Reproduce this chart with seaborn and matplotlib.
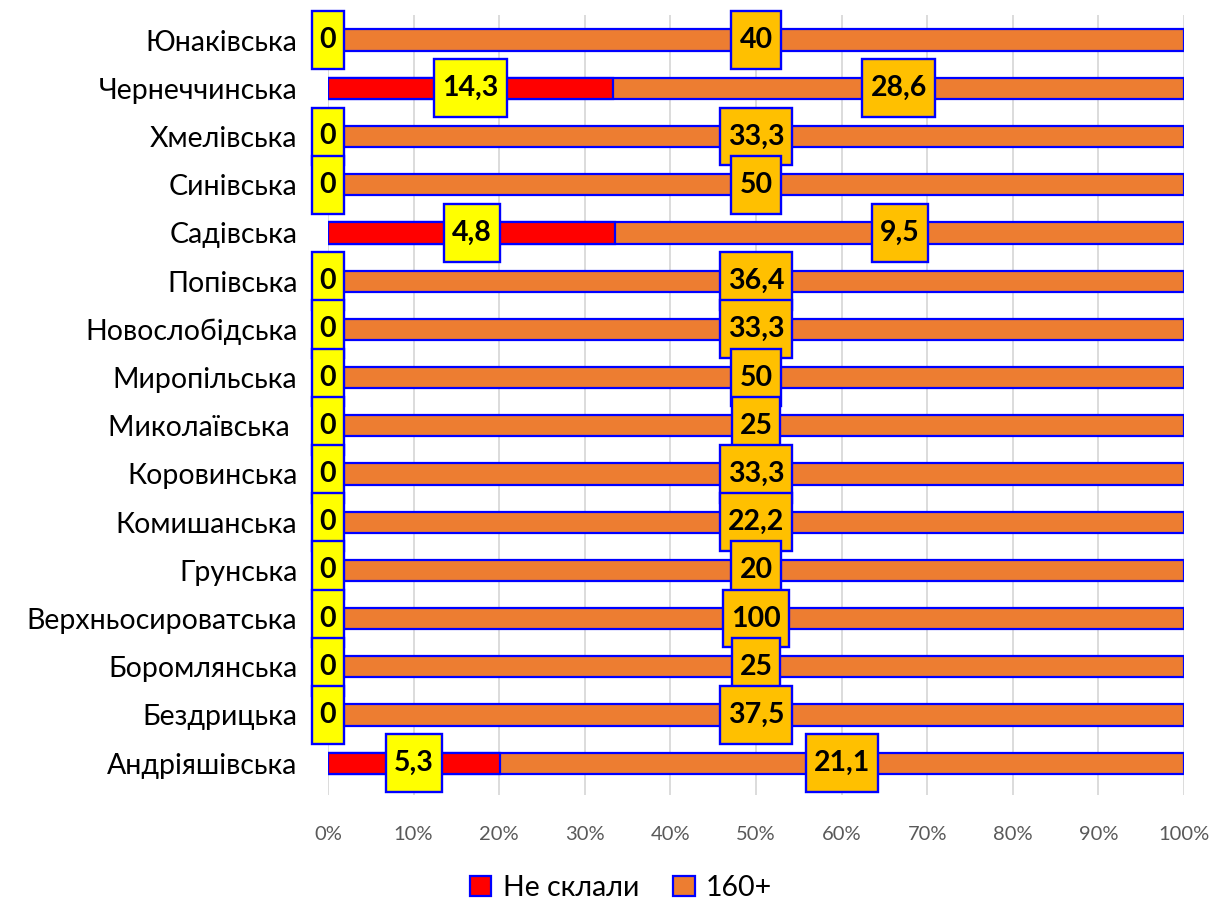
import matplotlib

matplotlib.use('Agg')
import matplotlib.pyplot as plt
import numpy as np
import pandas as pd
import seaborn as sns
from matplotlib.patches import Patch, Rectangle

# values
communities = [
    'Юнаківська', 'Чернеччинська', 'Хмелівська', 'Синівська', 'Садівська',
    'Попівська', 'Новослобідська', 'Миропільська', 'Миколаївська ',
    'Коровинська', 'Комишанська', 'Грунська', 'Верхньосироватська',
    'Боромлянська', 'Бездрицька', 'Андріяшівська',
]
failed = [0, 14.3, 0, 0, 4.8, 0, 0, 0, 0, 0, 0, 0, 0, 0, 0, 5.3]
high = [40, 28.6, 33.3, 50, 9.5, 36.4, 33.3, 50, 25, 33.3, 22.2, 20, 100, 25, 37.5, 21.1]
series_names = ['Не склали', '160+']
x_ticks = list(range(0, 101, 10))

RED = '#FF0000'
ORANGE = '#ED7D31'
BLUE = '#0000FF'
YELLOW = '#FFFF00'
GOLD = '#FFC000'

df = pd.DataFrame({'community': communities, 'failed': failed, 'high': high})
df['failed_pct'] = df['failed'] / (df['failed'] + df['high']) * 100
df['total_pct'] = 100.0

sns.set_theme(style='white')
plt.rcParams['font.family'] = ['Lato', 'DejaVu Sans']
plt.rcParams['text.color'] = 'black'

fig = plt.figure(figsize=(12.14, 9.05), dpi=100)
ax = fig.add_axes([328 / 1214, 1 - 795 / 905, (1184 - 328) / 1214, (795 - 15) / 905])

sns.barplot(data=df, x='total_pct', y='community', order=communities, color=ORANGE,
            edgecolor=BLUE, linewidth=1.6, width=0.44, saturation=1, ax=ax, zorder=2)
sns.barplot(data=df, x='failed_pct', y='community', order=communities, color=RED,
            edgecolor=BLUE, linewidth=1.6, width=0.44, saturation=1, ax=ax, zorder=3)

ax.set_xlim(0, 100)
ax.set_ylim(len(communities) - 1 + 0.66, -0.52)
ax.set_xticks(x_ticks)
ax.set_xticklabels([f'{t}%' for t in x_ticks], color='#595959', fontsize=14.5)
ax.tick_params(axis='x', length=0, pad=22)
ax.tick_params(axis='y', length=0, pad=22, labelsize=20.5, labelcolor='black')
ax.set_xlabel('')
ax.set_ylabel('')
ax.grid(axis='x', color='#D9D9D9', linewidth=1.3)
ax.set_axisbelow(True)
for s in ax.spines.values():
    s.set_visible(False)

# data labels at the centre of each segment
labels = []
for i, row in df.iterrows():
    fp = row['failed_pct']
    labels.append((ax.text(fp / 2, i, f"{row['failed']:g}".replace('.', ','), ha='center',
                           va='center', fontsize=20.5, fontweight='bold', color='black',
                           zorder=6, clip_on=False), i, YELLOW))
    labels.append((ax.text((fp + 100) / 2, i, f"{row['high']:g}".replace('.', ','),
                           ha='center', va='center', fontsize=20.5, fontweight='bold',
                           color='black', zorder=6, clip_on=False), i, GOLD))

fig.canvas.draw()
renderer = fig.canvas.get_renderer()
inv = ax.transData.inverted()
for txt, i, fc in labels:
    bb = txt.get_window_extent(renderer)
    x0 = inv.transform((bb.x0 - 8, 0))[0]
    x1 = inv.transform((bb.x1 + 8, 0))[0]
    ax.add_patch(Rectangle((x0, i - 0.6), x1 - x0, 1.2, facecolor=fc, edgecolor=BLUE,
                           linewidth=1.7, zorder=5, clip_on=False))

handles = [Patch(facecolor=RED, edgecolor=BLUE, linewidth=1.6),
           Patch(facecolor=ORANGE, edgecolor=BLUE, linewidth=1.6)]
fig.legend(handles, series_names, loc='center', bbox_to_anchor=(621 / 1214, 1 - 888 / 905),
           ncol=2, frameon=False, fontsize=20.5, handlelength=0.75, handleheight=0.75,
           handletextpad=0.4, columnspacing=1.2)

fig.savefig('out.png', dpi=100)
